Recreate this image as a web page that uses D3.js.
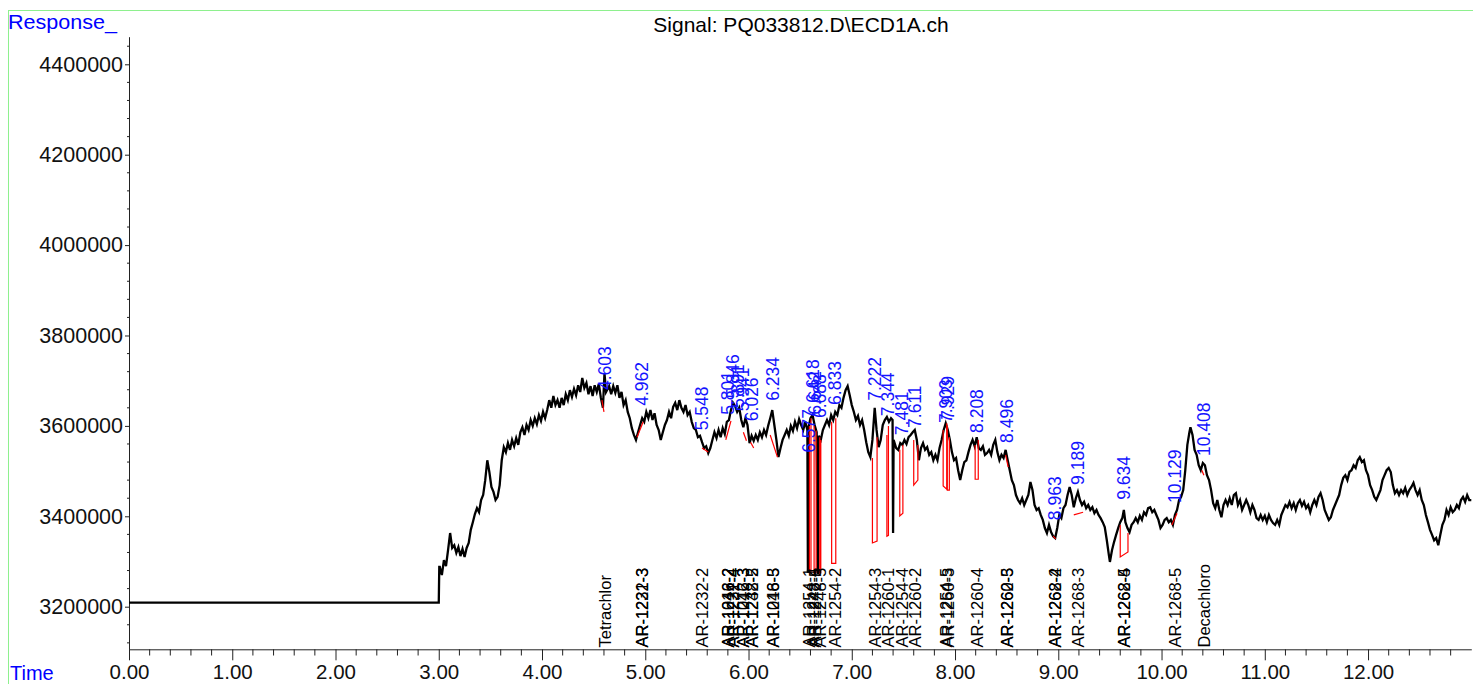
<!DOCTYPE html>
<html><head><meta charset="utf-8">
<script src="https://cdn.jsdelivr.net/npm/d3@7/dist/d3.min.js"></script>
<style>
html,body{margin:0;padding:0;background:#fff;}
svg{display:block;font-family:"Liberation Sans",Arial,sans-serif;}
</style></head>
<body>
<svg id="c" width="1473" height="684"></svg>
<script>
// ---- data (response values in thousands) ----
const title = "Signal: PQ033812.D\\ECD1A.ch";
const yTickValues = [3200000,3400000,3600000,3800000,4000000,4200000,4400000];
const xTickLabels = ["0.00","1.00","2.00","3.00","4.00","5.00","6.00","7.00","8.00","9.00","10.00","11.00","12.00"];
const trace = [
[0,3209],[3.0,3209],[3.005,3288],[3.01,3288],[3.03,3270],[3.05,3303],[3.07,3290],[3.09,3325],[3.11,3363],[3.13,3330],[3.15,3336],[3.17,3319],[3.19,3332],[3.21,3312],[3.23,3328],[3.25,3310],[3.27,3330],[3.29,3341],[3.31,3370],[3.33,3387],[3.35,3405],[3.37,3418],[3.39,3409],[3.41,3436],[3.43,3447],[3.45,3480],[3.47,3524],[3.49,3498],[3.51,3465],[3.53,3454],[3.55,3436],[3.57,3443],[3.59,3469],[3.61,3524],[3.63,3553],[3.65,3542],[3.67,3562],[3.69,3547],[3.71,3569],[3.73,3555],[3.75,3573],[3.77,3558],[3.79,3586],[3.81,3597],[3.83,3580],[3.85,3602],[3.87,3591],[3.89,3613],[3.91,3600],[3.93,3617],[3.95,3604],[3.97,3624],[3.99,3611],
[4.01,3631],[4.03,3617],[4.05,3635],[4.07,3657],[4.09,3640],[4.11,3666],[4.13,3646],[4.15,3657],[4.17,3640],[4.19,3662],[4.21,3646],[4.23,3670],[4.25,3657],[4.27,3679],[4.29,3664],[4.31,3682],[4.33,3668],[4.35,3690],[4.37,3675],[4.39,3706],[4.41,3684],[4.43,3695],[4.45,3670],[4.47,3688],[4.49,3666],[4.51,3690],[4.53,3675],[4.55,3693],[4.57,3662],[4.59,3640],[4.605,3717],[4.62,3675],[4.65,3688],[4.67,3670],[4.69,3688],[4.71,3673],[4.73,3690],[4.75,3662],[4.77,3675],[4.79,3646],[4.81,3657],[4.83,3631],[4.85,3617],[4.87,3595],[4.89,3580],[4.91,3569],[4.93,3586],[4.95,3602],[4.97,3617],[4.99,3609],
[5.01,3631],[5.03,3617],[5.05,3635],[5.07,3613],[5.09,3628],[5.11,3602],[5.13,3591],[5.15,3569],[5.17,3586],[5.19,3602],[5.21,3613],[5.23,3631],[5.25,3617],[5.27,3642],[5.29,3651],[5.31,3635],[5.33,3657],[5.35,3640],[5.37,3631],[5.39,3646],[5.41,3624],[5.43,3631],[5.45,3609],[5.47,3595],[5.49,3591],[5.51,3575],[5.53,3578],[5.55,3564],[5.57,3551],[5.59,3555],[5.61,3540],[5.63,3551],[5.65,3569],[5.67,3586],[5.69,3573],[5.71,3591],[5.73,3575],[5.75,3595],[5.77,3582],[5.79,3609],[5.81,3613],[5.83,3635],[5.85,3651],[5.87,3644],[5.89,3631],[5.91,3640],[5.93,3613],[5.95,3597],[5.97,3617],[5.99,3602],
[6.01,3562],[6.03,3578],[6.05,3567],[6.07,3580],[6.09,3569],[6.11,3586],[6.13,3575],[6.15,3591],[6.17,3580],[6.19,3600],[6.21,3617],[6.23,3635],[6.25,3602],[6.27,3569],[6.29,3531],[6.31,3551],[6.33,3569],[6.35,3580],[6.37,3591],[6.39,3578],[6.41,3600],[6.43,3589],[6.45,3609],[6.47,3595],[6.49,3615],[6.51,3602],[6.53,3591],[6.55,3609],[6.57,3591],[6.575,3275],[6.58,3595],[6.60,3617],[6.62,3624],[6.64,3602],[6.66,3586],[6.672,3272],[6.68,3578],[6.70,3569],[6.72,3591],[6.74,3602],[6.76,3613],[6.78,3602],[6.80,3624],[6.82,3613],[6.84,3631],[6.86,3624],[6.88,3646],[6.90,3640],[6.92,3662],[6.94,3679],[6.96,3688],[6.98,3668],
[7.00,3646],[7.02,3631],[7.04,3613],[7.06,3622],[7.08,3602],[7.10,3613],[7.12,3591],[7.14,3564],[7.16,3542],[7.18,3531],[7.20,3569],[7.222,3640],[7.24,3591],[7.26,3553],[7.28,3569],[7.30,3602],[7.32,3613],[7.34,3620],[7.36,3609],[7.38,3617],[7.395,3613],[7.40,3363],[7.405,3569],[7.43,3551],[7.45,3547],[7.47,3562],[7.49,3558],[7.51,3569],[7.53,3560],[7.55,3575],[7.57,3580],[7.59,3586],[7.61,3591],[7.63,3569],[7.65,3524],[7.67,3551],[7.69,3562],[7.71,3547],[7.73,3553],[7.75,3536],[7.77,3542],[7.79,3524],[7.81,3536],[7.83,3524],[7.85,3551],[7.87,3569],[7.89,3591],[7.91,3606],[7.93,3591],[7.95,3569],[7.97,3542],[7.99,3524],
[8.01,3529],[8.03,3502],[8.05,3480],[8.07,3502],[8.09,3520],[8.11,3524],[8.13,3542],[8.15,3558],[8.17,3569],[8.19,3555],[8.21,3575],[8.23,3551],[8.25,3547],[8.27,3555],[8.29,3536],[8.31,3540],[8.33,3547],[8.35,3536],[8.37,3558],[8.39,3569],[8.41,3542],[8.43,3524],[8.45,3536],[8.47,3529],[8.49,3547],[8.51,3524],[8.53,3502],[8.55,3480],[8.57,3469],[8.59,3447],[8.61,3436],[8.63,3429],[8.65,3440],[8.67,3425],[8.69,3436],[8.71,3447],[8.73,3476],[8.75,3458],[8.77,3425],[8.79,3414],[8.81,3418],[8.83,3403],[8.85,3392],[8.87,3374],[8.89,3363],[8.91,3381],[8.93,3365],[8.95,3356],[8.97,3352],[8.99,3374],
[9.01,3403],[9.03,3396],[9.05,3418],[9.07,3425],[9.09,3447],[9.11,3465],[9.13,3447],[9.15,3420],[9.17,3440],[9.19,3454],[9.21,3436],[9.23,3425],[9.25,3432],[9.27,3418],[9.29,3425],[9.31,3414],[9.33,3420],[9.35,3407],[9.37,3414],[9.39,3403],[9.41,3396],[9.43,3387],[9.45,3376],[9.47,3347],[9.49,3314],[9.50,3299],[9.52,3325],[9.54,3343],[9.56,3359],[9.58,3374],[9.60,3387],[9.62,3396],[9.635,3414],[9.65,3387],[9.67,3374],[9.69,3365],[9.71,3381],[9.73,3387],[9.75,3396],[9.77,3387],[9.79,3401],[9.81,3392],[9.83,3409],[9.85,3403],[9.87,3418],[9.89,3420],[9.91,3409],[9.93,3414],[9.95,3403],[9.97,3392],[9.99,3374],
[10.01,3381],[10.03,3392],[10.05,3396],[10.07,3387],[10.09,3392],[10.11,3381],[10.13,3403],[10.15,3414],[10.17,3436],[10.19,3443],[10.21,3458],[10.23,3502],[10.25,3558],[10.27,3586],[10.28,3597],[10.30,3580],[10.32,3547],[10.34,3536],[10.36,3513],[10.38,3502],[10.40,3518],[10.42,3513],[10.44,3491],[10.46,3480],[10.48,3458],[10.50,3429],[10.52,3418],[10.54,3436],[10.56,3414],[10.58,3398],[10.60,3425],[10.62,3436],[10.64,3425],[10.66,3440],[10.68,3425],[10.70,3447],[10.72,3451],[10.74,3425],[10.76,3436],[10.78,3414],[10.80,3425],[10.82,3436],[10.84,3425],[10.86,3409],[10.88,3425],[10.90,3414],[10.92,3396],[10.94,3392],[10.96,3403],[10.98,3392],
[11.00,3401],[11.02,3387],[11.04,3403],[11.06,3392],[11.08,3385],[11.10,3381],[11.12,3392],[11.14,3381],[11.16,3403],[11.18,3414],[11.20,3425],[11.22,3420],[11.24,3432],[11.26,3418],[11.28,3429],[11.30,3414],[11.32,3429],[11.34,3436],[11.36,3423],[11.38,3432],[11.40,3418],[11.42,3425],[11.44,3409],[11.46,3425],[11.48,3436],[11.50,3425],[11.52,3443],[11.54,3451],[11.56,3436],[11.58,3414],[11.60,3403],[11.62,3392],[11.64,3398],[11.66,3414],[11.68,3425],[11.70,3436],[11.72,3447],[11.74,3469],[11.76,3485],[11.78,3491],[11.80,3480],[11.82,3498],[11.84,3502],[11.86,3513],[11.88,3507],[11.90,3524],[11.92,3531],[11.94,3520],[11.96,3524],[11.98,3502],
[12.00,3491],[12.02,3469],[12.04,3458],[12.06,3443],[12.08,3436],[12.10,3447],[12.12,3458],[12.14,3480],[12.16,3491],[12.18,3502],[12.20,3507],[12.22,3498],[12.24,3469],[12.26,3451],[12.28,3458],[12.30,3447],[12.32,3458],[12.34,3451],[12.36,3463],[12.38,3447],[12.40,3458],[12.42,3465],[12.44,3474],[12.46,3458],[12.48,3447],[12.50,3458],[12.52,3436],[12.54,3425],[12.56,3403],[12.58,3387],[12.60,3370],[12.62,3359],[12.64,3347],[12.66,3352],[12.68,3336],[12.70,3359],[12.72,3381],[12.74,3392],[12.76,3414],[12.78,3403],[12.80,3420],[12.82,3409],[12.84,3414],[12.86,3425],[12.88,3418],[12.90,3436],[12.92,3443],[12.94,3432],[12.96,3447],[12.98,3436],[13.00,3436]
];
// peak retention times (blue labels) and apex response (thousands)
const peakRT   = ["4.603","4.962","5.548","5.801","5.846","5.891","5.941","6.026","6.234","6.577","6.618","6.642","6.688","6.833","7.222","7.344","7.481","7.611","7.903","7.929","8.208","8.496","8.963","9.189","9.634","10.129","10.408"];
const peakApex = [3675,3640,3586,3620,3657,3635,3628,3606,3651,3536,3646,3620,3613,3642,3651,3617,3575,3591,3602,3609,3580,3558,3387,3465,3432,3425,3529];
// compound names at the bottom
const compRT   = [4.603,4.962,4.962,5.548,5.801,5.801,5.846,5.846,5.941,5.941,6.026,6.026,6.234,6.234,6.577,6.618,6.642,6.688,6.833,7.222,7.344,7.481,7.611,7.903,7.929,8.208,8.496,8.496,8.963,8.963,9.189,9.634,9.634,10.129,10.408];
const compName = ["Tetrachlor","AR-1221-3","AR-1232-3","AR-1232-2","AR-1016-2","AR-1242-2","AR-1221-4","AR-1232-4","AR-1016-3","AR-1242-3","AR-1232-5","AR-1248-2","AR-1016-5","AR-1248-3","AR-1254-1","AR-1248-4","AR-1242-5","AR-1248-5","AR-1254-2","AR-1254-3","AR-1260-1","AR-1254-4","AR-1260-2","AR-1254-5","AR-1260-3","AR-1260-4","AR-1260-5","AR-1262-3","AR-1268-2","AR-1262-4","AR-1268-3","AR-1268-4","AR-1262-5","AR-1268-5","Decachloro"];
// integration baselines: [tStart, topStart, baseStart, tEnd, baseEnd, topEnd] (thousands)
const integ = [
[4.58,3657,3657,4.60,3631,3631],
[4.92,3575,3575,4.98,3609,3609],
[5.55,3551,3551,5.61,3542,3542],
[5.78,3569,3569,5.83,3611,3611],
[5.95,3586,3586,5.98,3567,3567],
[6.02,3564,3564,6.05,3551,3551],
[6.21,3580,3580,6.28,3531,3531],
[6.59,3600,3275,6.605,3275,3617],
[6.635,3600,3275,6.655,3275,3590],
[6.69,3575,3275,6.70,3275,3569],
[6.805,3609,3296,6.845,3296,3617],
[7.20,3529,3341,7.245,3345,3575],
[7.34,3580,3356,7.355,3358,3600],
[7.465,3547,3401,7.495,3407,3558],
[7.60,3569,3469,7.64,3480,3558],
[7.885,3591,3467,7.92,3460,3606],
[7.925,3600,3458,7.945,3458,3575],
[8.195,3558,3482,8.225,3482,3569],
[8.49,3536,3536,8.515,3509,3509],
[8.95,3356,3356,8.975,3350,3350],
[9.15,3403,3403,9.24,3409,3409],
[9.60,3381,3310,9.675,3321,3363],
[10.10,3381,3381,10.15,3407,3407],
[10.39,3502,3502,10.41,3491,3491]
];

// ---- drawing ----
const svg = d3.select("#c");
const x = d3.scaleLinear().domain([0, 13]).range([129, 1471.3]);
const y = d3.scaleLinear().domain([3105750, 4461060]).range([649.3, 36.7]);
const K = 1000;
const FF = "'Liberation Sans',Arial,sans-serif";

// green frame
svg.append("rect").attr("x", 8.5).attr("y", 10.5).attr("width", 1500).attr("height", 700)
  .attr("fill", "none").attr("stroke", "#8ef08e").attr("stroke-width", 1);

// y axis
const yAxis = d3.axisLeft(y).tickValues(yTickValues).tickSize(4).tickSizeOuter(0).tickFormat(d3.format("d"));
const gy = svg.append("g").attr("transform", "translate(129,0)").call(yAxis);
gy.select(".domain").attr("stroke", "#222");
gy.selectAll(".tick line").attr("stroke", "#222");
gy.selectAll(".tick text").attr("font-size", 21.5).attr("fill", "#111").attr("x", -6)
  .attr("font-family", FF);
const yMinor = d3.range(3120000, 4460000, 40000).filter(v => v % 200000 !== 0);
svg.append("g").selectAll("line").data(yMinor).join("line")
  .attr("x1", 127).attr("x2", 129).attr("y1", d => y(d)).attr("y2", d => y(d)).attr("stroke", "#222");

// x axis
const xMajor = xTickLabels.map(s => +s);
const xAxis = d3.axisBottom(x).tickValues(xMajor).tickSize(11).tickSizeOuter(0)
  .tickFormat((d, i) => xTickLabels[i]);
const gx = svg.append("g").attr("transform", "translate(0,649.3)").call(xAxis);
gx.select(".domain").attr("stroke", "#222");
gx.selectAll(".tick line").attr("stroke", "#222");
gx.selectAll(".tick text").attr("font-size", 20.5).attr("fill", "#111").attr("y", 15)
  .attr("font-family", FF);
const xMinor = d3.range(0.2, 13, 0.2).filter(v => Math.abs(v - Math.round(v)) > 0.01);
svg.append("g").selectAll("line").data(xMinor).join("line")
  .attr("x1", d => x(d)).attr("x2", d => x(d)).attr("y1", 649.3).attr("y2", 655.5).attr("stroke", "#222");

// trace
const line = d3.line().x(d => x(d[0])).y(d => y(d[1] * K));
svg.append("path").datum(trace).attr("d", line).attr("fill", "none")
  .attr("stroke", "#000").attr("stroke-width", 2.3).attr("stroke-linejoin", "miter");

// integration (red)
svg.append("g").selectAll("path").data(integ).join("path")
  .attr("d", d => {
    const p = d3.path();
    p.moveTo(x(d[0]), y(d[1] * K));
    p.lineTo(x(d[0]), y(d[2] * K));
    p.lineTo(x(d[3]), y(d[4] * K));
    p.lineTo(x(d[3]), y(d[5] * K));
    return p.toString();
  })
  .attr("fill", "none").attr("stroke", "#ff0000").attr("stroke-width", 1.2);

// blue peak labels
svg.append("g").selectAll("text").data(peakRT).join("text")
  .attr("transform", (d, i) => `translate(${x(+d) + 6.5},${y(peakApex[i] * K) - 2}) rotate(-90)`)
  .attr("font-size", 17.5).attr("fill", "#1414ff").text(d => d);

// compound labels
svg.append("g").selectAll("text").data(compName).join("text")
  .attr("transform", (d, i) => `translate(${x(compRT[i]) + 6.5},647.5) rotate(-90)`)
  .attr("font-size", 16.5).attr("fill", "#000").text(d => d);

// titles
svg.append("text").attr("x", 801).attr("y", 32).attr("text-anchor", "middle")
  .attr("font-size", 21).attr("fill", "#000").text(title);
svg.append("text").attr("x", 8).attr("y", 29).attr("font-size", 21).attr("fill", "#0000ff")
  .attr("textLength", 109).attr("lengthAdjust", "spacingAndGlyphs").text("Response_");
svg.append("text").attr("x", 10).attr("y", 680).attr("font-size", 20).attr("fill", "#0000ff").text("Time");
</script>
</body></html>
